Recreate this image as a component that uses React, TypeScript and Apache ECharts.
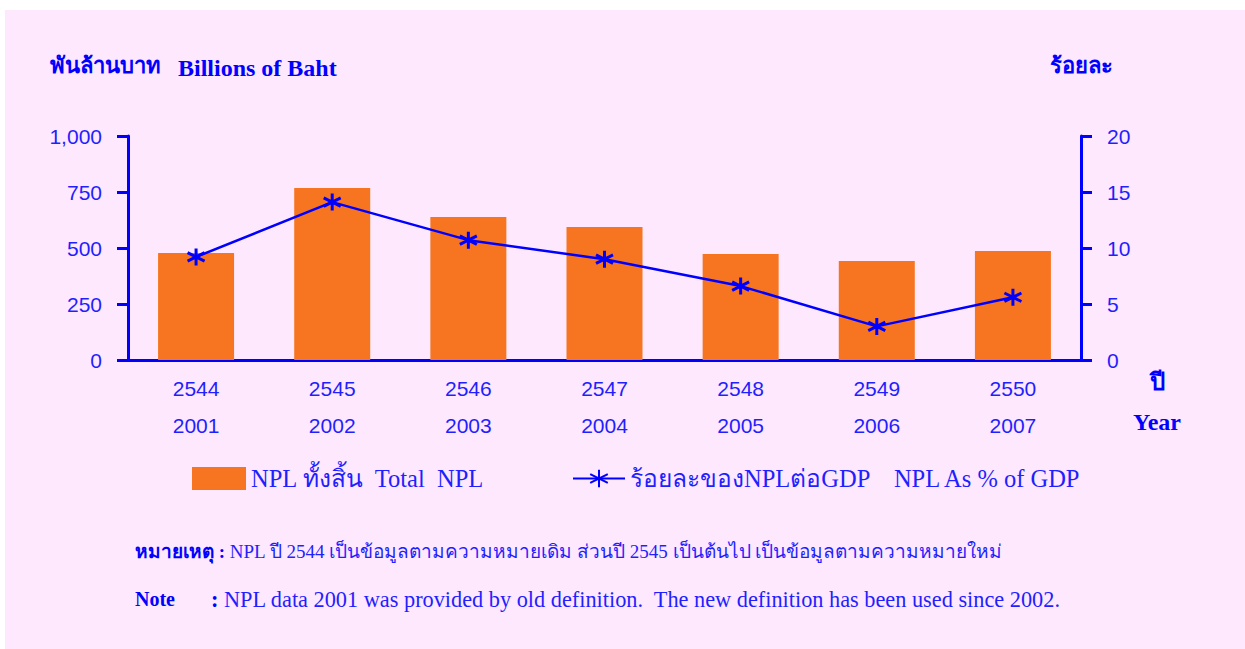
import React, { useEffect, useRef } from "react";
import * as echarts from "echarts";

const thaiYears = ["2544", "2545", "2546", "2547", "2548", "2549", "2550"];
const years = ["2001", "2002", "2003", "2004", "2005", "2006", "2007"];
const totalNPL = [478, 768, 638, 594, 473, 442, 487];
const nplPctGDP = [9.2, 14.1, 10.7, 9.0, 6.6, 3.0, 5.6];
const leftTicks = { min: 0, max: 1000, interval: 250 };
const rightTicks = { min: 0, max: 20, interval: 5 };

const barName = "NPL ทั้งสิ้น  Total  NPL";
const lineName = "ร้อยละของNPLต่อGDP    NPL As % of GDP";

const TEXT = "#1f1fff";
const BLUE = "#0000ff";
const SERIF = "'Liberation Serif', 'Noto Sans', serif";
const SANS = "'Liberation Sans', 'Noto Sans', sans-serif";

export default function App() {
  const ref = useRef<HTMLDivElement>(null);
  useEffect(() => {
    if (!ref.current) return;
    const chart = echarts.init(ref.current, undefined, { renderer: "svg" });
    const star = "path://M6,0L6,12M0.8,3L11.2,9M0.8,9L11.2,3";
    chart.setOption({
      animation: false,
      backgroundColor: "#ffffff",
      grid: { left: 128, right: 164, top: 136, bottom: 289, containLabel: false },
      xAxis: {
        type: "category",
        data: thaiYears.map((t, i) => t + "\n" + years[i]),
        axisLine: { show: true, lineStyle: { color: BLUE, width: 3 } },
        axisTick: { show: false },
        axisLabel: {
          color: TEXT,
          fontSize: 21,
          fontFamily: SANS,
          lineHeight: 37,
          margin: 10,
        },
      },
      yAxis: [
        {
          type: "value",
          ...leftTicks,
          position: "left",
          splitLine: { show: false },
          axisLine: { show: true, lineStyle: { color: BLUE, width: 3 } },
          axisTick: { show: true, length: 11, lineStyle: { color: BLUE, width: 3 } },
          axisLabel: {
            color: TEXT,
            fontSize: 21,
            fontFamily: SANS,
            margin: 26,
            formatter: (v: number) => v.toLocaleString("en-US"),
          },
        },
        {
          type: "value",
          ...rightTicks,
          position: "right",
          splitLine: { show: false },
          axisLine: { show: true, lineStyle: { color: BLUE, width: 3 } },
          axisTick: { show: true, length: 11, lineStyle: { color: BLUE, width: 3 } },
          axisLabel: { color: TEXT, fontSize: 21, fontFamily: SANS, margin: 26 },
        },
      ],
      legend: [
        {
          data: [{ name: barName, icon: "rect" }],
          left: 192,
          top: 466,
          itemWidth: 54,
          itemHeight: 23,
          padding: 0,
          textStyle: { color: TEXT, fontSize: 24.5, fontFamily: SERIF },
        },
        {
          data: [lineName],
          left: 572,
          top: 466,
          itemWidth: 52,
          itemHeight: 22,
          padding: 0,
          textStyle: { color: TEXT, fontSize: 24.5, fontFamily: SERIF },
        },
      ],
      series: [
        {
          name: barName,
          type: "bar",
          data: totalNPL,
          barWidth: 76,
          itemStyle: { color: "#f77520" },
          z: 2,
        },
        {
          name: lineName,
          type: "line",
          yAxisIndex: 1,
          data: nplPctGDP,
          symbol: star,
          symbolSize: 17,
          lineStyle: { color: BLUE, width: 2.5 },
          itemStyle: { color: BLUE, borderColor: BLUE, borderWidth: 3 },
          z: 3,
        },
      ],
      graphic: [
        {
          type: "rect",
          shape: { x: 5, y: 10, width: 1240, height: 639 },
          style: { fill: "#fde8fd" },
          z: -10,
          silent: true,
        },
        {
          type: "text",
          left: 50,
          top: 54,
          style: { text: "พันล้านบาท", fill: BLUE, font: `bold 22px ${SERIF}` },
        },
        {
          type: "text",
          left: 178,
          top: 56,
          style: { text: "Billions of Baht", fill: BLUE, font: `bold 24px ${SERIF}` },
        },
        {
          type: "text",
          left: 1050,
          top: 54,
          style: { text: "ร้อยละ", fill: BLUE, font: `bold 22px ${SERIF}` },
        },
        {
          type: "text",
          left: 1150,
          top: 370,
          style: { text: "ปี", fill: BLUE, font: `bold 24px ${SERIF}` },
        },
        {
          type: "text",
          left: 1133,
          top: 410,
          style: { text: "Year", fill: BLUE, font: `bold 24px ${SERIF}` },
        },
        {
          type: "text",
          left: 135,
          top: 542,
          style: {
            text: "{b|หมายเหตุ :} NPL ปี 2544 เป็นข้อมูลตามความหมายเดิม ส่วนปี 2545 เป็นต้นไป เป็นข้อมูลตามความหมายใหม่",
            fill: TEXT,
            font: `19px ${SERIF}`,
            rich: { b: { fontWeight: "bold", fill: BLUE, fontSize: 19, fontFamily: SERIF } },
          },
        },
        {
          type: "text",
          left: 135,
          top: 589,
          style: { text: "Note", fill: BLUE, font: `bold 20px ${SERIF}` },
        },
        {
          type: "text",
          left: 211,
          top: 588,
          style: {
            text: "{b|:} NPL data 2001 was provided by old definition.  The new definition has been used since 2002.",
            fill: TEXT,
            font: `22.3px ${SERIF}`,
            rich: { b: { fontWeight: "bold", fill: BLUE, fontSize: 22.3, fontFamily: SERIF } },
          },
        },
      ],
    });
    return () => chart.dispose();
  }, []);
  return (
    <div style={{ position: "fixed", left: 0, top: 0, width: 1245, height: 649, background: "#fff" }}>
      <div ref={ref} style={{ width: 1245, height: 649 }} />
    </div>
  );
}
